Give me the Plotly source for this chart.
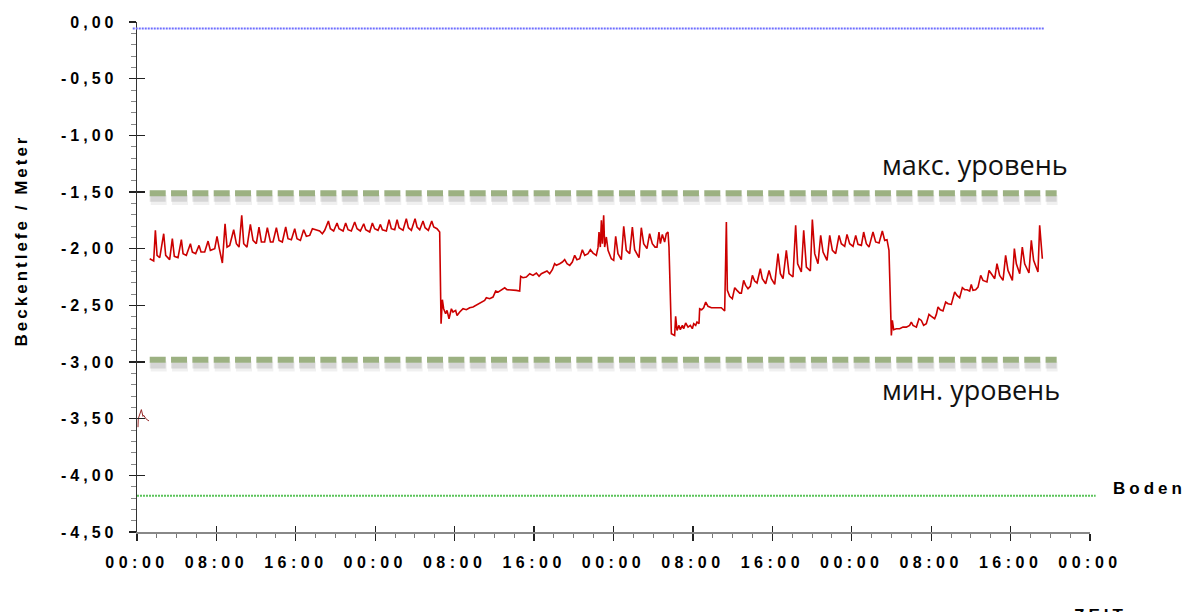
import plotly.graph_objects as go

# ---------------- data (hours since start, basin depth in metres) ----------------
X_RANGE = [0, 96]
Y_RANGE = [-4.5, 0]

x_tick_vals = [0, 8, 16, 24, 32, 40, 48, 56, 64, 72, 80, 88, 96]
x_tick_text = ["00:00", "08:00", "16:00", "00:00", "08:00", "16:00", "00:00",
               "08:00", "16:00", "00:00", "08:00", "16:00", "00:00"]
y_tick_vals = [0, -0.5, -1.0, -1.5, -2.0, -2.5, -3.0, -3.5, -4.0, -4.5]
y_tick_text = ["0,00", "-0,50", "-1,00", "-1,50", "-2,00", "-2,50", "-3,00",
               "-3,50", "-4,00", "-4,50"]

hours = [
    1.28, 1.68, 1.85, 2.02, 2.29, 2.69, 2.89, 3.29, 3.56, 3.76, 4.13, 4.47, 4.64, 4.97,
    5.38, 5.58, 5.91, 6.25, 6.45, 6.82, 7.16, 7.39, 7.83, 8.06, 8.26, 8.60, 8.87, 9.07,
    9.34, 9.74, 10.01, 10.28, 10.55, 10.75, 11.08, 11.42, 11.69, 12.02, 12.29, 12.53,
    12.86, 13.13, 13.44, 13.70, 14.04, 14.31, 14.64, 14.98, 15.21, 15.55, 15.89, 16.12,
    16.46, 16.79, 17.06, 17.40, 17.67, 18.00, 18.40, 18.67, 18.91, 19.28, 19.48, 19.81,
    20.15, 20.35, 20.76, 21.02, 21.26, 21.59, 21.93, 22.17, 22.50, 22.84, 23.04, 23.44,
    23.71, 23.94, 24.28, 24.52, 24.72, 25.12, 25.39, 25.62, 25.96, 26.20, 26.40, 26.80,
    27.13, 27.34, 27.64, 28.01, 28.21, 28.48, 28.81, 29.02, 29.35, 29.69, 29.89, 30.22,
    30.32, 30.49,
    30.63, 30.76, 30.89, 31.09, 31.23, 31.43, 31.67, 31.83, 32.10, 32.24, 32.51, 32.84,
    33.18, 33.51, 33.85, 34.18, 34.45, 34.69, 35.02, 35.19, 35.53, 35.86, 36.13, 36.37,
    36.70, 37.04, 37.27, 37.54, 37.88, 38.21, 38.55, 38.65, 38.88, 39.22, 39.56, 39.89,
    40.23, 40.50, 40.73, 41.07, 41.30, 41.57, 41.84, 42.07, 42.24, 42.58, 42.85, 43.08,
    43.32, 43.59, 43.85, 44.09, 44.32, 44.59, 44.86, 45.10, 45.43, 45.67, 45.94, 46.27,
    46.44, 46.54, 46.67, 46.78, 46.88, 47.01, 47.11, 47.28, 47.45, 47.78, 48.02, 48.22,
    48.45, 48.79, 49.03, 49.29, 49.63, 49.90, 50.13, 50.57, 50.80, 51.04, 51.37, 51.64,
    51.91, 52.18, 52.38, 52.58, 52.72, 52.92, 53.15, 53.32, 53.49, 53.59,
    53.83, 54.16, 54.26, 54.40, 54.60, 54.73, 54.94, 55.07, 55.27, 55.51, 55.74, 55.94,
    56.08, 56.28, 56.41, 56.61, 56.68, 56.88, 57.08, 57.29, 57.52, 57.86, 58.53, 58.86,
    59.20, 59.37, 59.47, 59.70, 59.97, 60.21, 60.44, 60.71, 60.88, 61.11, 61.31, 61.55,
    61.78, 61.99, 62.22, 62.46, 62.79, 62.99, 63.33, 63.67, 63.90, 64.24, 64.57, 64.81,
    65.08, 65.41, 65.68, 66.08, 66.35, 66.55, 66.92, 67.16, 67.43, 67.83, 68.03, 68.27,
    68.60, 68.87, 69.11, 69.51, 69.78, 70.05, 70.38, 70.72, 70.95, 71.29, 71.52, 71.79,
    72.13, 72.40, 72.63, 72.97, 73.20, 73.47, 73.74, 74.14, 74.41, 74.75, 75.08, 75.32,
    75.55, 75.75,
    75.99, 76.09, 76.22, 76.49, 76.83, 77.16, 77.50, 77.83, 78.00, 78.17, 78.51, 78.77,
    79.01, 79.24, 79.51, 79.78, 80.02, 80.35, 80.52, 80.69, 80.92, 81.19, 81.46, 81.70,
    82.03, 82.37, 82.60, 82.87, 83.14, 83.37, 83.61, 83.88, 84.04, 84.21, 84.48, 84.72,
    84.99, 85.22, 85.62, 85.83, 86.06, 86.40, 86.63, 86.90, 87.24, 87.50, 87.74, 88.18,
    88.38, 88.58, 88.92, 89.18, 89.42, 89.85, 90.09, 90.32, 90.76, 90.93, 91.20,
]
level_m = [
    -2.089, -2.109, -1.838, -2.059, -2.080, -1.868, -2.059, -2.097, -1.912, -2.068, -2.080,
    -1.921, -2.044, -2.059, -1.956, -2.030, -2.044, -1.971, -2.030, -2.030, -1.933, -2.015,
    -2.000, -1.891, -1.986, -2.127, -1.780, -1.986, -1.971, -1.833, -1.956, -1.986, -1.706,
    -1.956, -1.986, -1.786, -1.927, -1.956, -1.809, -1.941, -1.941, -1.815, -1.941, -1.941,
    -1.815, -1.927, -1.941, -1.809, -1.912, -1.921, -1.824, -1.912, -1.927, -1.833, -1.891,
    -1.883, -1.824, -1.833, -1.844, -1.868, -1.838, -1.756, -1.824, -1.844, -1.774, -1.824,
    -1.844, -1.774, -1.833, -1.844, -1.765, -1.824, -1.844, -1.780, -1.833, -1.853, -1.774,
    -1.824, -1.838, -1.786, -1.833, -1.844, -1.744, -1.824, -1.833, -1.744, -1.815, -1.838,
    -1.735, -1.815, -1.838, -1.735, -1.809, -1.833, -1.756, -1.815, -1.838, -1.756, -1.809,
    -1.824, -1.833, -1.853,
    -2.662, -2.450, -2.530, -2.574, -2.545, -2.618, -2.530, -2.559, -2.545, -2.589, -2.559,
    -2.530, -2.539, -2.521, -2.515, -2.500, -2.486, -2.471, -2.456, -2.433, -2.442, -2.427,
    -2.374, -2.383, -2.368, -2.345, -2.362, -2.362, -2.368, -2.368, -2.374, -2.244, -2.256,
    -2.250, -2.221, -2.236, -2.215, -2.244, -2.221, -2.206, -2.197, -2.221, -2.186, -2.133,
    -2.147, -2.133, -2.118, -2.097, -2.133, -2.147, -2.118, -2.059, -2.097, -2.089, -2.009,
    -2.059, -2.044, -2.009, -2.039, -2.059, -1.991, -1.853, -1.986, -1.750, -1.956, -1.706,
    -1.986, -1.897, -2.015, -2.089, -2.103, -1.891, -2.044, -2.097, -1.803, -2.015, -2.044,
    -1.809, -2.009, -2.080, -1.815, -1.956, -2.000, -1.868, -1.956, -1.986, -1.986, -1.853,
    -1.956, -1.874, -1.941, -1.868, -1.853, -1.986,
    -2.750, -2.765, -2.597, -2.721, -2.677, -2.715, -2.677, -2.706, -2.656, -2.692, -2.677,
    -2.706, -2.662, -2.677, -2.647, -2.662, -2.530, -2.539, -2.521, -2.471, -2.509, -2.521,
    -2.521, -2.521, -2.550, -1.765, -2.368, -2.421, -2.442, -2.344, -2.368, -2.392, -2.392,
    -2.280, -2.324, -2.353, -2.333, -2.236, -2.286, -2.303, -2.177, -2.265, -2.309, -2.192,
    -2.265, -2.315, -2.044, -2.221, -2.265, -2.015, -2.221, -2.250, -1.794, -2.133, -2.206,
    -1.838, -2.162, -2.197, -1.744, -2.044, -2.133, -1.883, -2.030, -2.103, -1.883, -2.015,
    -2.044, -1.883, -1.956, -1.980, -1.874, -1.956, -1.980, -1.883, -1.962, -1.971, -1.853,
    -1.956, -1.986, -1.853, -1.941, -1.950, -1.844, -1.927, -1.921, -2.015,
    -2.765, -2.633, -2.715, -2.706, -2.706, -2.692, -2.692, -2.677, -2.647, -2.677, -2.692,
    -2.618, -2.633, -2.677, -2.662, -2.580, -2.597, -2.618, -2.580, -2.515, -2.539, -2.550,
    -2.471, -2.486, -2.492, -2.383, -2.412, -2.433, -2.344, -2.362, -2.362, -2.374, -2.315,
    -2.368, -2.362, -2.339, -2.236, -2.280, -2.294, -2.192, -2.221, -2.265, -2.133, -2.236,
    -2.280, -2.059, -2.192, -2.280, -2.000, -2.133, -2.221, -1.986, -2.133, -2.215, -1.927,
    -2.103, -2.206, -1.794, -2.089,
]

# short sensor blip at the very start
blip_hours = [0.10, 0.13, 0.44, 0.60, 0.67, 0.84, 0.94, 1.21]
blip_level = [-3.575, -3.50, -3.42, -3.48, -3.47, -3.50, -3.505, -3.52]

# reference levels (metres) and the time spans they are drawn over (hours)
top_level = -0.058
top_span = [-0.43, 91.43]
max_level = -1.51
min_level = -2.98
limit_span = [1.28, 92.64]
floor_level = -4.18
floor_span = [0.0, 96.57]

label_max = "макс. уровень"
label_min = "мин. уровень"
label_floor = "Boden"
y_title = "Beckentlefe / Meter"
x_title = "ZEIT"

# ---------------- figure ----------------
def to_paper(t):
    return (t - X_RANGE[0]) / (X_RANGE[1] - X_RANGE[0])

fig = go.Figure()
fig.add_trace(go.Scatter(x=blip_hours, y=blip_level, mode="lines",
                         line=dict(color="rgb(150,40,40)", width=1),
                         hoverinfo="skip", showlegend=False))
fig.add_trace(go.Scatter(x=hours, y=level_m, mode="lines",
                         line=dict(color="rgb(204,0,0)", width=1.6),
                         hoverinfo="skip", showlegend=False))
# helper trace for the overlay axes (inner halves of the major ticks)
fig.add_trace(go.Scatter(x=[None], y=[None], xaxis="x2", yaxis="y2",
                         hoverinfo="skip", showlegend=False))

dash_pat = "16px,5.33px"
shapes = []
for lvl in (max_level, min_level):
    shapes.append(dict(type="line", xref="x", yref="y", layer="above",
                       x0=limit_span[0] + 0.1, x1=limit_span[1] + 0.1,
                       y0=lvl - 0.06, y1=lvl - 0.06,
                       line=dict(color="rgba(0,0,0,0.06)", width=10, dash=dash_pat)))
    shapes.append(dict(type="line", xref="x", yref="y", layer="above",
                       x0=limit_span[0], x1=limit_span[1],
                       y0=lvl - 0.05, y1=lvl - 0.05,
                       line=dict(color="rgba(0,0,0,0.11)", width=6, dash=dash_pat)))
    shapes.append(dict(type="line", xref="x", yref="y", layer="above",
                       x0=limit_span[0], x1=limit_span[1], y0=lvl, y1=lvl,
                       line=dict(color="rgb(156,177,130)", width=6, dash=dash_pat)))
shapes.append(dict(type="line", xref="paper", yref="y", layer="above",
                   x0=to_paper(top_span[0]), x1=to_paper(top_span[1]),
                   y0=top_level, y1=top_level,
                   line=dict(color="rgb(110,110,255)", width=2, dash="2px,1px")))
shapes.append(dict(type="line", xref="paper", yref="y", layer="above",
                   x0=to_paper(floor_span[0]), x1=to_paper(floor_span[1]),
                   y0=floor_level, y1=floor_level,
                   line=dict(color="rgb(90,195,90)", width=2, dash="2px,1px")))

tick_font = dict(family="Liberation Sans, Arial, sans-serif", size=16,
                 color="black", weight="bold")

annotations = [
    dict(text=label_max, x=74.86, y=-1.260, xref="x", yref="y",
         xanchor="left", yanchor="middle", align="left", showarrow=False,
         font=dict(family="Open Sans", size=27, color="#111")),
    dict(text=label_min, x=74.86, y=-3.246, xref="x", yref="y",
         xanchor="left", yanchor="middle", align="left", showarrow=False,
         font=dict(family="Open Sans", size=27, color="#111")),
    dict(text=label_floor, x=1.0218, y=-4.118, xref="paper", yref="y",
         xanchor="left", yanchor="middle", align="left", showarrow=False,
         font=dict(family="Liberation Sans, Arial", size=17, color="black",
                   weight="bold")),
    dict(text=y_title, x=-0.121, y=0.572, xref="paper", yref="paper",
         xanchor="center", yanchor="middle", textangle=-90, showarrow=False,
         font=dict(family="Liberation Sans, Arial", size=17, color="black",
                   weight="bold")),
    dict(text=x_title, x=1.0105, y=-0.1408, xref="paper", yref="paper",
         xanchor="center", yanchor="top", showarrow=False,
         font=dict(family="Liberation Sans, Arial", size=17, color="black",
                   weight="bold")),
]

fig.update_layout(
    width=1188, height=612,
    margin=dict(l=137, r=98, t=22, b=80, pad=0),
    paper_bgcolor="white", plot_bgcolor="white",
    showlegend=False, hovermode=False,
    shapes=shapes, annotations=annotations,
    xaxis=dict(range=X_RANGE, tickmode="array", tickvals=x_tick_vals,
               ticktext=x_tick_text, ticks="outside", ticklen=7, tickwidth=1.2,
               tickcolor="#222", showline=True, linecolor="#888", linewidth=1.5,
               showgrid=False, zeroline=False, tickfont=tick_font,
               ticklabelstandoff=8, automargin=False,
               minor=dict(dtick=2, tick0=0, ticks="outside", ticklen=4,
                          tickcolor="#777", tickwidth=1, showgrid=False)),
    yaxis=dict(range=Y_RANGE, tickmode="array", tickvals=y_tick_vals,
               ticktext=y_tick_text, ticks="outside", ticklen=7, tickwidth=1.2,
               tickcolor="#222", showline=True, linecolor="#333", linewidth=1.3,
               showgrid=False, zeroline=False, tickfont=tick_font,
               ticklabelstandoff=8, automargin=False,
               minor=dict(dtick=0.1, tick0=0, ticks="outside", ticklen=5,
                          tickcolor="#888", tickwidth=1, showgrid=False)),
    xaxis2=dict(range=X_RANGE, overlaying="x", anchor="y2", side="bottom",
                tickmode="array", tickvals=x_tick_vals[1:], ticks="inside",
                ticklen=6, tickwidth=1.2, tickcolor="#222", showticklabels=False,
                showline=False, showgrid=False, zeroline=False),
    yaxis2=dict(range=Y_RANGE, overlaying="y", anchor="x2", side="left",
                tickmode="array", tickvals=y_tick_vals, ticks="inside",
                ticklen=8, tickwidth=1.2, tickcolor="#222", showticklabels=False,
                showline=False, showgrid=False, zeroline=False),
)

post_js = """
document.body.style.margin = '0';
document.body.style.padding = '0';
var gd = document.getElementById('{plot_id}');
function spaceText(){
  gd.querySelectorAll('.xtick text').forEach(function(n){ n.style.letterSpacing = '4.5px'; });
  gd.querySelectorAll('.ytick text').forEach(function(n){ n.style.letterSpacing = '4px'; });
  gd.querySelectorAll('.annotation-text').forEach(function(n){
    var t = n.textContent;
    if (t === 'Boden' || t === 'ZEIT') { n.style.letterSpacing = '4px'; }
    if (t.indexOf('Meter') >= 0) { n.style.letterSpacing = '3px'; }
  });
}
spaceText();
if (gd.on) { gd.on('plotly_afterplot', spaceText); }
"""

fig.write_html("out.html", post_script=post_js,
               config={"displayModeBar": False, "staticPlot": True})
